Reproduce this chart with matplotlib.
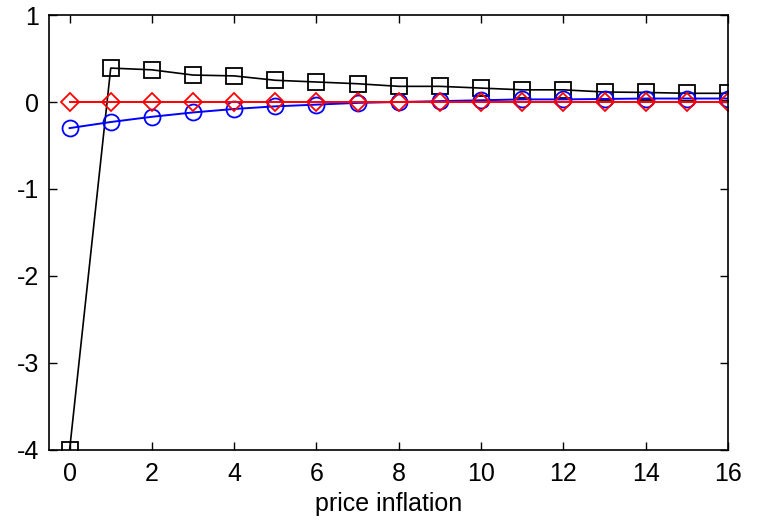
import numpy as np
import matplotlib
matplotlib.use("Agg")
import matplotlib.pyplot as plt

plt.rcParams['font.family'] = ['Liberation Sans', 'DejaVu Sans']
plt.rcParams['axes.unicode_minus'] = False

# --- Data ---
horizon = list(range(17))
black_sq = [-4.0, 0.39, 0.37, 0.31, 0.30, 0.25, 0.23, 0.21, 0.18, 0.18,
            0.16, 0.14, 0.14, 0.115, 0.11, 0.10, 0.10]
blue_circ = [-0.30, -0.23, -0.17, -0.12, -0.08, -0.05, -0.03, -0.01, 0.00, 0.01,
             0.02, 0.03, 0.03, 0.035, 0.04, 0.04, 0.04]
red_diam = [0.0] * 17

fig = plt.figure(figsize=(7.61, 5.25), dpi=100)
ax = fig.add_axes([0.0644, 0.1429, 0.8922, 0.8285])

ax.plot(horizon, black_sq, color='black', lw=1.2, marker='s', ms=11.5,
        mfc='none', mec='black', mew=1.3)
ax.plot(horizon, blue_circ, color='blue', lw=1.4, marker='o', ms=11.5,
        mfc='none', mec='blue', mew=1.3)
ax.plot(horizon, red_diam, color='red', lw=1.4, marker='D', ms=9.5,
        mfc='none', mec='red', mew=1.3)

ax.set_xlim(-0.5, 16)
ax.set_ylim(-4, 1)
ax.set_xticks(range(0, 17, 2))
ax.set_yticks([-4, -3, -2, -1, 0, 1])
ax.tick_params(direction='in', length=6, width=1, top=True, right=True,
               labelsize=18)
ax.tick_params(axis='x', pad=9)
ax.tick_params(axis='y', pad=7)
for s in ax.spines.values():
    s.set_linewidth(1.2)
ax.set_xlabel("price inflation", fontsize=18, labelpad=4)

fig.savefig("out.png", dpi=100)
